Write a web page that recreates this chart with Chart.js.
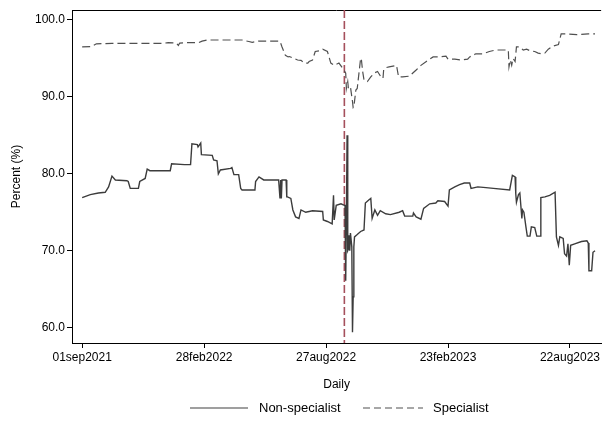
<!DOCTYPE html>
<html>
<head>
<meta charset="utf-8">
<script src="https://cdn.jsdelivr.net/npm/chart.js@4.4.1/dist/chart.umd.min.js"></script>
<style>
  html, body { margin: 0; padding: 0; background: #fff; }
</style>
</head>
<body>
<canvas id="myChart" width="602" height="423"></canvas>
<script>
// days since 01sep2021
const xTickDays = [0, 180, 360, 540, 720];
const xTickLabels = ['01sep2021', '28feb2022', '27aug2022', '23feb2023', '22aug2023'];
const yTickValues = [60, 70, 80, 90, 100];
const eventDay = 387;

const nsDays = [0, 12, 24, 34, 39, 44, 49, 66, 68, 71, 83, 85, 93, 96, 100, 130, 132, 151, 160, 162,
  170, 171, 175, 176, 192, 194, 199, 201, 204, 219, 221, 224, 231, 234, 236, 255, 256, 261, 268, 290,
  292, 293, 294, 295, 301, 302, 303, 308, 311, 315, 320, 323, 330, 340, 355, 356, 362, 369, 371, 372,
  375, 382, 387, 388, 389, 390, 391, 392, 393, 394, 395, 396, 398, 399, 400, 401, 402, 406, 411, 416,
  418, 423, 426, 428, 432, 436, 440, 448, 455, 468, 473, 476, 488, 489, 493, 500, 504, 513, 522, 525,
  535, 540, 542, 550, 557, 564, 572, 574, 584, 596, 607, 631, 635, 639, 640, 641, 644, 646, 649, 650,
  652, 655, 657, 661, 663, 668, 671, 676, 677, 683, 690, 698, 700, 703, 705, 710, 712, 715, 717, 719,
  721, 727, 737, 745, 747, 748, 752, 754, 757];
const nsValues = [76.9, 77.3, 77.5, 77.6, 78.3, 79.7, 79.2, 79.1, 79.0, 78.1, 78.1, 79.0, 79.4, 80.6, 80.4, 80.4, 81.3, 81.2, 81.2, 83.9,
  83.8, 83.5, 84.0, 82.5, 82.4, 81.8, 81.7, 80.0, 80.5, 80.7, 80.8, 79.9, 79.9, 78.1, 77.9, 77.9, 79.0, 79.6, 79.2, 79.2,
  76.8, 79.2, 76.8, 79.2, 79.2, 77.0, 77.0, 76.8, 75.3, 74.4, 74.2, 75.3, 75.0, 75.2, 75.1, 74.0, 73.8, 73.5, 77.2, 74.0,
  75.9, 76.1, 75.9, 75.9, 66.1, 74.0, 85.0, 70.0, 70.2, 72.0, 70.0, 72.3, 70.5, 59.4, 64.0, 70.5, 71.8, 72.1, 72.5, 72.7,
  76.2, 76.6, 76.8, 74.2, 75.3, 74.6, 75.2, 74.8, 74.7, 75.0, 75.2, 74.5, 74.5, 74.9, 74.4, 74.1, 75.5, 76.1, 76.2, 76.5,
  76.4, 75.8, 77.9, 78.3, 78.6, 78.8, 78.8, 78.1, 78.3, 78.2, 78.1, 77.9, 79.8, 79.6, 77.4, 76.3, 77.3, 77.5, 74.2, 75.3,
  75.0, 73.1, 71.9, 71.9, 73.1, 73.0, 71.9, 71.9, 76.9, 77.0, 77.2, 77.6, 71.8, 70.7, 71.8, 71.6, 69.6, 69.3, 70.9, 68.1,
  70.7, 70.9, 71.2, 71.3, 71.0, 67.4, 67.4, 69.8, 70.0];

const spDays = [0, 14, 21, 44, 117, 127, 139, 142, 144, 151, 172, 177, 184, 236, 246, 251, 260, 292, 295, 300,
  304, 306, 313, 318, 323, 328, 333, 335, 340, 344, 350, 355, 362, 367, 372, 379, 384, 389, 390, 392,
  393, 396, 399, 400, 401, 404, 406, 411, 412, 414, 416, 421, 426, 431, 436, 441, 444, 445, 448, 453,
  464, 467, 473, 483, 493, 500, 508, 518, 527, 537, 540, 550, 559, 569, 572, 581, 591, 601, 610, 617,
  629, 630, 632, 634, 636, 639, 641, 646, 651, 656, 661, 668, 673, 678, 683, 688, 695, 703, 707, 715,
  730, 747, 757];
const spValues = [96.5, 96.55, 96.9, 96.95, 96.95, 97.05, 97.0, 96.7, 97.0, 97.05, 97.05, 97.25, 97.4, 97.4, 97.2, 97.1, 97.25, 97.25, 96.5, 95.4,
  95.2, 95.25, 95.0, 94.8, 94.75, 94.4, 94.4, 94.6, 94.8, 95.9, 96.0, 96.2, 95.9, 94.4, 94.1, 94.4, 93.8, 93.1, 91.1, 92.0,
  91.1, 91.3, 89.4, 88.6, 88.7, 90.9, 91.1, 95.0, 95.0, 93.3, 92.2, 92.0, 92.6, 93.1, 93.3, 92.6, 92.4, 93.5, 93.8, 93.9,
  94.1, 92.6, 92.6, 92.7, 93.5, 94.1, 94.6, 95.2, 95.2, 95.3, 94.9, 94.9, 94.8, 94.9, 95.2, 95.6, 95.6, 95.9, 96.1, 96.1,
  96.1, 93.9, 94.8, 94.1, 95.0, 94.6, 96.5, 96.5, 96.1, 96.2, 96.0, 95.9, 95.7, 95.6, 95.7, 96.2, 96.6, 96.8, 98.2, 98.2,
  98.1, 98.2, 98.2];

const fontFamily = '"Liberation Sans", Arial, Helvetica, sans-serif';

// red dashed event line + top frame line, drawn under the series
const eventLine = {
  id: 'eventLine',
  beforeDatasetsDraw(c) {
    const { ctx, chartArea: a, scales } = c;
    const x = scales.x.getPixelForValue(eventDay);
    ctx.save();
    ctx.strokeStyle = '#000';
    ctx.lineWidth = 1;
    ctx.beginPath();
    ctx.moveTo(a.left, a.top + 0.5);
    ctx.lineTo(a.right, a.top + 0.5);
    ctx.stroke();
    ctx.strokeStyle = '#a5505c';
    ctx.lineWidth = 1.6;
    ctx.setLineDash([8, 3]);
    ctx.beginPath();
    ctx.moveTo(x, a.top);
    ctx.lineTo(x, a.bottom);
    ctx.stroke();
    ctx.restore();
  }
};

const bottomLegend = {
  id: 'bottomLegend',
  afterDraw(c) {
    const ctx = c.ctx;
    const y = 408;
    ctx.save();
    ctx.font = '13px ' + fontFamily;
    ctx.fillStyle = '#000';
    ctx.textBaseline = 'middle';
    ctx.lineWidth = 1.2;
    ctx.strokeStyle = '#404040';
    ctx.beginPath();
    ctx.moveTo(190, y); ctx.lineTo(248, y);
    ctx.stroke();
    ctx.fillText('Non-specialist', 259, y);
    ctx.strokeStyle = '#505050';
    ctx.setLineDash([7, 4]);
    ctx.beginPath();
    ctx.moveTo(363, y); ctx.lineTo(423, y);
    ctx.stroke();
    ctx.fillText('Specialist', 433, y);
    ctx.restore();
  }
};

const toPoints = (days, vals) => days.map((d, i) => ({ x: d, y: vals[i] }));

new Chart(document.getElementById('myChart').getContext('2d'), {
  type: 'line',
  data: {
    datasets: [{
      label: 'Non-specialist',
      data: toPoints(nsDays, nsValues),
      borderColor: '#3c3c3c',
      borderWidth: 1.4,
      pointRadius: 0,
      tension: 0,
      fill: false
    }, {
      label: 'Specialist',
      data: toPoints(spDays, spValues),
      borderColor: '#505050',
      borderWidth: 1.2,
      borderDash: [8, 4],
      pointRadius: 0,
      tension: 0,
      fill: false
    }]
  },
  options: {
    responsive: false,
    animation: false,
    devicePixelRatio: 1,
    layout: { padding: { top: 10, right: 0, bottom: 30, left: 0 } },
    plugins: {
      legend: { display: false },
      tooltip: { enabled: false }
    },
    scales: {
      x: {
        type: 'linear',
        min: -15,
        max: 766,
        afterBuildTicks: s => { s.ticks = xTickDays.map(v => ({ value: v })); },
        afterFit: s => { s.height = 50; },
        ticks: {
          callback: (v, i) => xTickLabels[i],
          font: { family: fontFamily, size: 12 },
          color: '#000',
          maxRotation: 0,
          autoSkip: false,
          padding: 2
        },
        grid: { drawOnChartArea: false, tickLength: 5, tickColor: '#000' },
        border: { color: '#000', width: 1 },
        title: {
          display: true,
          text: 'Daily',
          font: { family: fontFamily, size: 12 },
          color: '#000',
          padding: { top: 0, bottom: 1 }
        }
      },
      y: {
        min: 58,
        max: 101.3,
        afterBuildTicks: s => { s.ticks = yTickValues.map(v => ({ value: v })); },
        afterFit: s => { s.width = 72; },
        ticks: {
          callback: v => v.toFixed(1),
          font: { family: fontFamily, size: 12 },
          color: '#000',
          padding: 2
        },
        grid: { drawOnChartArea: false, tickLength: 5, tickColor: '#000' },
        border: { color: '#000', width: 1 },
        title: {
          display: true,
          text: 'Percent (%)',
          font: { family: fontFamily, size: 12 },
          color: '#000',
          padding: { top: 9, bottom: 0 }
        }
      }
    }
  },
  plugins: [eventLine, bottomLegend]
});
</script>
</body>
</html>
